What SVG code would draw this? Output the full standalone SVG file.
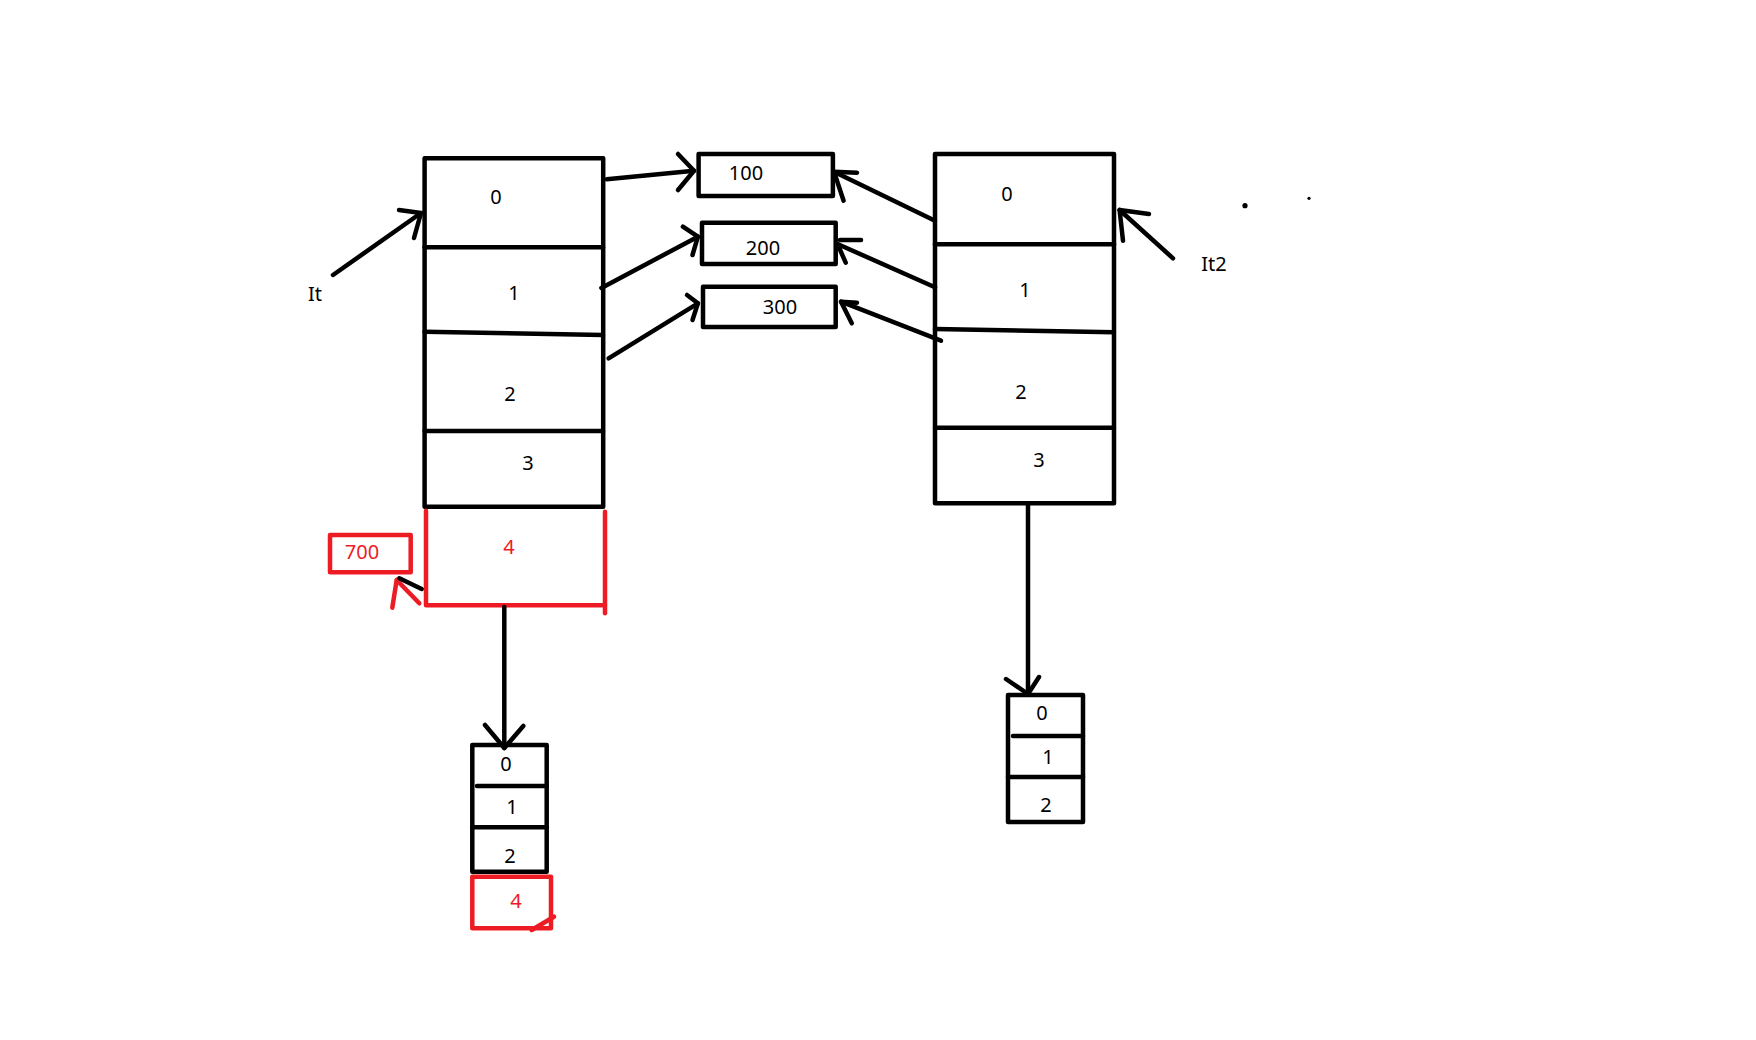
<svg xmlns="http://www.w3.org/2000/svg" width="1756" height="1040" viewBox="0 0 1756 1040">
<style>
.k{fill:none;stroke:#000;stroke-width:4.5;stroke-linecap:round;stroke-linejoin:round}
.r{fill:none;stroke:#ed1c24;stroke-width:4.5;stroke-linecap:round;stroke-linejoin:round}
.t{font-family:"Noto Sans","Open Sans",sans-serif;font-size:20px;fill:#000;text-anchor:middle}
.tr{font-family:"Noto Sans","Open Sans",sans-serif;font-size:20px;fill:#ed1c24;text-anchor:middle}
</style>
<rect width="1756" height="1040" fill="#fff"/>
<g id="left-array">
<rect class="k" x="424.6" y="158.3" width="178.6" height="348.4"/>
<line class="k" x1="424.6" y1="247.3" x2="603" y2="247.3"/>
<line class="k" x1="424.6" y1="331.7" x2="603" y2="335"/>
<line class="k" x1="424.6" y1="431" x2="603" y2="431"/>
<text class="t" x="496" y="204">0</text>
<text class="t" x="514" y="300">1</text>
<text class="t" x="510" y="401">2</text>
<text class="t" x="528" y="470">3</text>
</g>
<g id="left-new-cell">
<polyline class="r" points="426,510.7 426,605.3 605,605.3"/>
<line class="r" x1="605" y1="511.7" x2="605" y2="613.3"/>
<text class="tr" x="509" y="554">4</text>
</g>
<g id="box-700">
<rect class="r" x="330" y="535" width="80.7" height="37.3"/>
<text class="tr" x="362" y="559">700</text>
</g>
<g id="box-100">
<rect class="k" x="698.6" y="154" width="134.3" height="42"/>
<text class="t" x="746" y="180">100</text>
</g>
<g id="box-200">
<rect class="k" x="702" y="222.7" width="133.7" height="41.3"/>
<text class="t" x="763" y="255">200</text>
</g>
<g id="box-300">
<rect class="k" x="703" y="286.7" width="132.7" height="40.3"/>
<text class="t" x="780" y="314">300</text>
</g>
<g id="right-array">
<rect class="k" x="935" y="154" width="179" height="349.3"/>
<line class="k" x1="935" y1="244.3" x2="1114" y2="244.3"/>
<line class="k" x1="935" y1="329" x2="1114" y2="332.3"/>
<line class="k" x1="935" y1="427.7" x2="1114" y2="427.7"/>
<text class="t" x="1007" y="201">0</text>
<text class="t" x="1025" y="297">1</text>
<text class="t" x="1021" y="399">2</text>
<text class="t" x="1039" y="467">3</text>
</g>
<g id="left-small-array">
<rect class="k" x="472.3" y="745" width="74.4" height="126.7"/>
<line class="k" x1="477" y1="786" x2="546.7" y2="786"/>
<line class="k" x1="472.3" y1="827.3" x2="546.7" y2="827.3"/>
<text class="t" x="506" y="771">0</text>
<text class="t" x="512" y="814">1</text>
<text class="t" x="510" y="863">2</text>
</g>
<g id="left-small-new-cell">
<rect class="r" x="472.3" y="876.7" width="78.7" height="51.6"/>
<line class="r" x1="531.7" y1="930" x2="554" y2="916.7"/>
<text class="tr" x="516" y="908">4</text>
</g>
<g id="right-small-array">
<rect class="k" x="1008" y="695" width="75" height="127"/>
<line class="k" x1="1013" y1="736" x2="1083" y2="736"/>
<line class="k" x1="1008" y1="777" x2="1083" y2="777"/>
<text class="t" x="1042" y="720">0</text>
<text class="t" x="1048" y="764">1</text>
<text class="t" x="1046" y="812">2</text>
</g>
<g id="label-it">
<text class="t" x="315" y="301">It</text>
</g>
<g id="label-it2">
<text class="t" x="1214" y="271">It2</text>
<circle cx="1245" cy="205.7" r="2.6" fill="#000"/>
<circle cx="1309" cy="198.3" r="1.6" fill="#000"/>
</g>
<g id="connectors">
<polyline class="k" points="333,275 421,213"/>
<polyline class="k" points="399,210 421,213 414,238"/>
<polyline class="k" points="606.8,179.3 694,170.7"/>
<polyline class="k" points="678,154 694,170.7 678,190"/>
<polyline class="k" points="601.4,288 697.9,236.7"/>
<polyline class="k" points="682.9,226.7 697.9,236.7 692.5,255"/>
<polyline class="k" points="608.6,358.3 697.9,303.3"/>
<polyline class="k" points="687,295 697.9,303.3 692.5,320"/>
<polyline class="k" points="935,220.7 834,171.7"/>
<polyline class="k" points="857,172.7 834,171.7 843.6,200.7"/>
<polyline class="k" points="935,287.3 837.5,244"/>
<polyline class="k" points="837.5,244 845.7,262.7"/>
<line class="k" x1="840" y1="240" x2="861" y2="240"/>
<polyline class="k" points="941,340.7 841,301.7"/>
<polyline class="k" points="857,302.7 841,301.7 851.8,323.3"/>
<polyline class="k" points="1173,258.3 1119.6,210"/>
<polyline class="k" points="1149,214 1119.6,210 1123,240.7"/>
<line class="k" x1="504.3" y1="607" x2="504.3" y2="748"/>
<polyline class="k" points="485,725 504.3,748 523.3,726"/>
<line class="k" x1="1028" y1="505" x2="1028" y2="694"/>
<polyline class="k" points="1006,679 1028,694 1039,677"/>
<line class="r" x1="419.3" y1="603.3" x2="396.7" y2="580"/>
<line class="r" x1="396.7" y1="580" x2="392.3" y2="607.7"/>
<line class="k" x1="399.3" y1="578.3" x2="421.7" y2="589"/>
</g>
</svg>
